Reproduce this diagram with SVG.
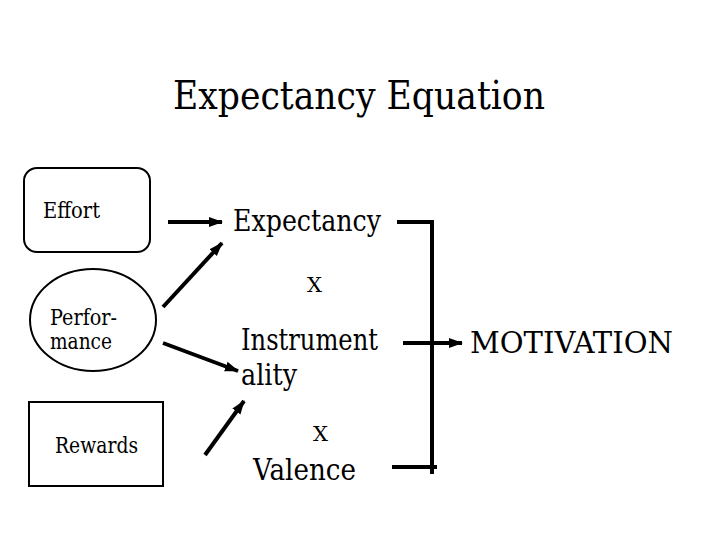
<svg xmlns="http://www.w3.org/2000/svg" width="720" height="540" viewBox="0 0 720 540">
<defs>
<marker id="ah" markerUnits="userSpaceOnUse" markerWidth="14" markerHeight="12" refX="13" refY="6" orient="auto">
<path d="M0,1 L14,6 L0,11 Z" fill="#000"/>
</marker>
<style>
text{font-family:"DejaVu Serif","Liberation Serif",serif;fill:#000}
.box{fill:#fff;stroke:#000;stroke-width:2}
.conn line{stroke:#000;stroke-width:4;fill:none}
.arr{marker-end:url(#ah)}
</style>
</defs>
<rect width="720" height="540" fill="#fff"/>
<text x="173" y="109" font-size="40" textLength="372" lengthAdjust="spacingAndGlyphs">Expectancy Equation</text>
<g id="effort">
<rect class="box" x="24" y="168" width="126" height="84" rx="13"/>
<text x="43" y="218" font-size="22" textLength="57" lengthAdjust="spacingAndGlyphs">Effort</text>
</g>
<g id="performance">
<ellipse class="box" cx="93" cy="320" rx="63" ry="51"/>
<text x="50" y="325" font-size="22" textLength="67" lengthAdjust="spacingAndGlyphs">Perfor-</text>
<text x="50" y="349" font-size="22" textLength="62" lengthAdjust="spacingAndGlyphs">mance</text>
</g>
<g id="rewards">
<rect class="box" x="29" y="402" width="134" height="84"/>
<text x="55" y="453" font-size="22" textLength="83" lengthAdjust="spacingAndGlyphs">Rewards</text>
</g>
<g id="expectancy"><text x="233" y="231" font-size="29" textLength="148" lengthAdjust="spacingAndGlyphs">Expectancy</text></g>
<g id="x1"><text x="307" y="292" font-size="20" textLength="15" lengthAdjust="spacingAndGlyphs">X</text></g>
<g id="instrumentality">
<text x="241" y="350" font-size="29" textLength="137" lengthAdjust="spacingAndGlyphs">Instrument</text>
<text x="241" y="385" font-size="29" textLength="56" lengthAdjust="spacingAndGlyphs">ality</text>
</g>
<g id="x2"><text x="313" y="441" font-size="20" textLength="15" lengthAdjust="spacingAndGlyphs">X</text></g>
<g id="valence"><text x="253" y="480" font-size="29" textLength="103" lengthAdjust="spacingAndGlyphs">Valence</text></g>
<g id="motivation"><text x="470" y="353" font-size="29" textLength="203" lengthAdjust="spacingAndGlyphs">MOTIVATION</text></g>
<g class="conn" id="connectors">
<line class="arr" x1="168" y1="222" x2="222" y2="222"/>
<line class="arr" x1="163" y1="307" x2="222" y2="243"/>
<line class="arr" x1="163" y1="343" x2="238" y2="371"/>
<line class="arr" x1="205" y1="455" x2="244" y2="401"/>
<line x1="397" y1="222" x2="434" y2="222"/>
<line x1="432" y1="220" x2="432" y2="474"/>
<line x1="392" y1="467" x2="437" y2="467"/>
<line class="arr" x1="403" y1="343" x2="462" y2="343"/>
</g>
</svg>
